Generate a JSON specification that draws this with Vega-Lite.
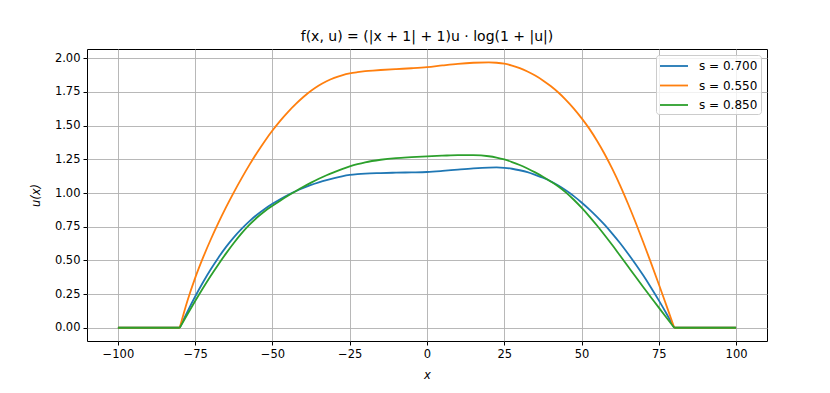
{
  "$schema": "https://vega.github.io/schema/vega-lite/v6.json",
  "autosize": "none",
  "width": 680,
  "height": 292,
  "padding": {"left": 87, "top": 49, "right": 63, "bottom": 52},
  "background": "white",
  "title": {"text": "f(x, u) = (|x + 1| + 1)u · log(1 + |u|)", "font": "DejaVu Sans", "fontSize": 14, "fontWeight": "normal", "color": "#000", "offset": 5},
  "config": {
    "view": {"stroke": "#000", "strokeWidth": 1},
    "axis": {"domain": false, "grid": true, "gridColor": "#b0b0b0", "gridWidth": 0.9, "tickColor": "#000", "tickSize": 4, "tickWidth": 1, "labelFont": "DejaVu Sans", "labelFontSize": 11.5, "labelColor": "#000", "labelPadding": 3, "titleFont": "DejaVu Sans", "titleFontSize": 11.5, "titleFontWeight": "normal", "titleFontStyle": "italic", "titleColor": "#000"},
    "legend": {"labelFont": "DejaVu Sans", "labelFontSize": 12, "labelColor": "#000"}
  },
  "datasets": {
    "pts": [
      {"s":"s = 0.700","p":1,"x":-100,"y":0},{"s":"s = 0.700","p":1,"x":-80,"y":0},
      {"s":"s = 0.700","p":2,"x":-80,"y":0},{"s":"s = 0.700","p":2,"x":-77.5,"y":0.12},{"s":"s = 0.700","p":2,"x":-75,"y":0.232},{"s":"s = 0.700","p":2,"x":-72.5,"y":0.336},{"s":"s = 0.700","p":2,"x":-70,"y":0.432},{"s":"s = 0.700","p":2,"x":-67.5,"y":0.52},{"s":"s = 0.700","p":2,"x":-65,"y":0.6},{"s":"s = 0.700","p":2,"x":-62.5,"y":0.671},{"s":"s = 0.700","p":2,"x":-60,"y":0.734},{"s":"s = 0.700","p":2,"x":-57.5,"y":0.79},{"s":"s = 0.700","p":2,"x":-55,"y":0.839},{"s":"s = 0.700","p":2,"x":-52.5,"y":0.882},{"s":"s = 0.700","p":2,"x":-50,"y":0.92},{"s":"s = 0.700","p":2,"x":-47.5,"y":0.954},{"s":"s = 0.700","p":2,"x":-45,"y":0.985},{"s":"s = 0.700","p":2,"x":-42.5,"y":1.013},{"s":"s = 0.700","p":2,"x":-40,"y":1.038},{"s":"s = 0.700","p":2,"x":-37.5,"y":1.06},{"s":"s = 0.700","p":2,"x":-35,"y":1.079},{"s":"s = 0.700","p":2,"x":-32.5,"y":1.096},{"s":"s = 0.700","p":2,"x":-30,"y":1.111},{"s":"s = 0.700","p":2,"x":-27.5,"y":1.124},{"s":"s = 0.700","p":2,"x":-25,"y":1.134},{"s":"s = 0.700","p":2,"x":-22.5,"y":1.14},{"s":"s = 0.700","p":2,"x":-20,"y":1.144},{"s":"s = 0.700","p":2,"x":-15,"y":1.148},{"s":"s = 0.700","p":2,"x":-10,"y":1.151},{"s":"s = 0.700","p":2,"x":-5,"y":1.153},{"s":"s = 0.700","p":2,"x":0,"y":1.156},{"s":"s = 0.700","p":2,"x":5,"y":1.164},{"s":"s = 0.700","p":2,"x":10,"y":1.174},{"s":"s = 0.700","p":2,"x":15,"y":1.183},{"s":"s = 0.700","p":2,"x":20,"y":1.189},{"s":"s = 0.700","p":2,"x":22.5,"y":1.19},{"s":"s = 0.700","p":2,"x":25,"y":1.187},{"s":"s = 0.700","p":2,"x":27.5,"y":1.18},{"s":"s = 0.700","p":2,"x":30,"y":1.169},{"s":"s = 0.700","p":2,"x":32.5,"y":1.155},{"s":"s = 0.700","p":2,"x":35,"y":1.135},{"s":"s = 0.700","p":2,"x":37.5,"y":1.113},{"s":"s = 0.700","p":2,"x":40,"y":1.087},{"s":"s = 0.700","p":2,"x":42.5,"y":1.055},{"s":"s = 0.700","p":2,"x":45,"y":1.018},{"s":"s = 0.700","p":2,"x":47.5,"y":0.977},{"s":"s = 0.700","p":2,"x":50,"y":0.93},{"s":"s = 0.700","p":2,"x":52.5,"y":0.879},{"s":"s = 0.700","p":2,"x":55,"y":0.823},{"s":"s = 0.700","p":2,"x":57.5,"y":0.763},{"s":"s = 0.700","p":2,"x":60,"y":0.697},{"s":"s = 0.700","p":2,"x":62.5,"y":0.627},{"s":"s = 0.700","p":2,"x":65,"y":0.551},{"s":"s = 0.700","p":2,"x":67.5,"y":0.471},{"s":"s = 0.700","p":2,"x":70,"y":0.387},{"s":"s = 0.700","p":2,"x":72.5,"y":0.297},{"s":"s = 0.700","p":2,"x":75,"y":0.203},{"s":"s = 0.700","p":2,"x":77.5,"y":0.104},{"s":"s = 0.700","p":2,"x":80,"y":0},
      {"s":"s = 0.700","p":3,"x":80,"y":0},{"s":"s = 0.700","p":3,"x":100,"y":0},
      {"s":"s = 0.550","p":1,"x":-100,"y":0},{"s":"s = 0.550","p":1,"x":-80,"y":0},
      {"s":"s = 0.550","p":2,"x":-80,"y":0},{"s":"s = 0.550","p":2,"x":-77.5,"y":0.2},{"s":"s = 0.550","p":2,"x":-75,"y":0.37},{"s":"s = 0.550","p":2,"x":-72.5,"y":0.518},{"s":"s = 0.550","p":2,"x":-70,"y":0.653},{"s":"s = 0.550","p":2,"x":-67.5,"y":0.778},{"s":"s = 0.550","p":2,"x":-65,"y":0.895},{"s":"s = 0.550","p":2,"x":-62.5,"y":1.005},{"s":"s = 0.550","p":2,"x":-60,"y":1.109},{"s":"s = 0.550","p":2,"x":-57.5,"y":1.207},{"s":"s = 0.550","p":2,"x":-55,"y":1.299},{"s":"s = 0.550","p":2,"x":-52.5,"y":1.385},{"s":"s = 0.550","p":2,"x":-50,"y":1.464},{"s":"s = 0.550","p":2,"x":-47.5,"y":1.536},{"s":"s = 0.550","p":2,"x":-45,"y":1.601},{"s":"s = 0.550","p":2,"x":-42.5,"y":1.66},{"s":"s = 0.550","p":2,"x":-40,"y":1.713},{"s":"s = 0.550","p":2,"x":-37.5,"y":1.759},{"s":"s = 0.550","p":2,"x":-35,"y":1.798},{"s":"s = 0.550","p":2,"x":-32.5,"y":1.83},{"s":"s = 0.550","p":2,"x":-30,"y":1.855},{"s":"s = 0.550","p":2,"x":-27.5,"y":1.874},{"s":"s = 0.550","p":2,"x":-25,"y":1.888},{"s":"s = 0.550","p":2,"x":-22.5,"y":1.897},{"s":"s = 0.550","p":2,"x":-20,"y":1.904},{"s":"s = 0.550","p":2,"x":-17.5,"y":1.909},{"s":"s = 0.550","p":2,"x":-15,"y":1.913},{"s":"s = 0.550","p":2,"x":-10,"y":1.92},{"s":"s = 0.550","p":2,"x":-5,"y":1.926},{"s":"s = 0.550","p":2,"x":0,"y":1.934},{"s":"s = 0.550","p":2,"x":5,"y":1.947},{"s":"s = 0.550","p":2,"x":10,"y":1.959},{"s":"s = 0.550","p":2,"x":15,"y":1.967},{"s":"s = 0.550","p":2,"x":20,"y":1.97},{"s":"s = 0.550","p":2,"x":22.5,"y":1.967},{"s":"s = 0.550","p":2,"x":25,"y":1.96},{"s":"s = 0.550","p":2,"x":27.5,"y":1.946},{"s":"s = 0.550","p":2,"x":30,"y":1.927},{"s":"s = 0.550","p":2,"x":32.5,"y":1.902},{"s":"s = 0.550","p":2,"x":35,"y":1.872},{"s":"s = 0.550","p":2,"x":37.5,"y":1.836},{"s":"s = 0.550","p":2,"x":40,"y":1.794},{"s":"s = 0.550","p":2,"x":42.5,"y":1.746},{"s":"s = 0.550","p":2,"x":45,"y":1.69},{"s":"s = 0.550","p":2,"x":47.5,"y":1.627},{"s":"s = 0.550","p":2,"x":50,"y":1.556},{"s":"s = 0.550","p":2,"x":52.5,"y":1.478},{"s":"s = 0.550","p":2,"x":55,"y":1.388},{"s":"s = 0.550","p":2,"x":57.5,"y":1.288},{"s":"s = 0.550","p":2,"x":60,"y":1.177},{"s":"s = 0.550","p":2,"x":62.5,"y":1.055},{"s":"s = 0.550","p":2,"x":65,"y":0.922},{"s":"s = 0.550","p":2,"x":67.5,"y":0.781},{"s":"s = 0.550","p":2,"x":70,"y":0.633},{"s":"s = 0.550","p":2,"x":72.5,"y":0.48},{"s":"s = 0.550","p":2,"x":75,"y":0.323},{"s":"s = 0.550","p":2,"x":77.5,"y":0.162},{"s":"s = 0.550","p":2,"x":80,"y":0},
      {"s":"s = 0.550","p":3,"x":80,"y":0},{"s":"s = 0.550","p":3,"x":100,"y":0},
      {"s":"s = 0.850","p":1,"x":-100,"y":0},{"s":"s = 0.850","p":1,"x":-80,"y":0},
      {"s":"s = 0.850","p":2,"x":-80,"y":0},{"s":"s = 0.850","p":2,"x":-77.5,"y":0.1},{"s":"s = 0.850","p":2,"x":-75,"y":0.198},{"s":"s = 0.850","p":2,"x":-72.5,"y":0.293},{"s":"s = 0.850","p":2,"x":-70,"y":0.384},{"s":"s = 0.850","p":2,"x":-67.5,"y":0.47},{"s":"s = 0.850","p":2,"x":-65,"y":0.552},{"s":"s = 0.850","p":2,"x":-62.5,"y":0.629},{"s":"s = 0.850","p":2,"x":-60,"y":0.7},{"s":"s = 0.850","p":2,"x":-57.5,"y":0.763},{"s":"s = 0.850","p":2,"x":-55,"y":0.818},{"s":"s = 0.850","p":2,"x":-52.5,"y":0.865},{"s":"s = 0.850","p":2,"x":-50,"y":0.905},{"s":"s = 0.850","p":2,"x":-47.5,"y":0.943},{"s":"s = 0.850","p":2,"x":-45,"y":0.979},{"s":"s = 0.850","p":2,"x":-42.5,"y":1.013},{"s":"s = 0.850","p":2,"x":-40,"y":1.046},{"s":"s = 0.850","p":2,"x":-37.5,"y":1.077},{"s":"s = 0.850","p":2,"x":-35,"y":1.106},{"s":"s = 0.850","p":2,"x":-32.5,"y":1.132},{"s":"s = 0.850","p":2,"x":-30,"y":1.155},{"s":"s = 0.850","p":2,"x":-27.5,"y":1.177},{"s":"s = 0.850","p":2,"x":-25,"y":1.197},{"s":"s = 0.850","p":2,"x":-22.5,"y":1.214},{"s":"s = 0.850","p":2,"x":-20,"y":1.228},{"s":"s = 0.850","p":2,"x":-15,"y":1.247},{"s":"s = 0.850","p":2,"x":-10,"y":1.259},{"s":"s = 0.850","p":2,"x":-5,"y":1.266},{"s":"s = 0.850","p":2,"x":0,"y":1.272},{"s":"s = 0.850","p":2,"x":5,"y":1.277},{"s":"s = 0.850","p":2,"x":10,"y":1.281},{"s":"s = 0.850","p":2,"x":15,"y":1.281},{"s":"s = 0.850","p":2,"x":20,"y":1.273},{"s":"s = 0.850","p":2,"x":22.5,"y":1.263},{"s":"s = 0.850","p":2,"x":25,"y":1.249},{"s":"s = 0.850","p":2,"x":27.5,"y":1.23},{"s":"s = 0.850","p":2,"x":30,"y":1.208},{"s":"s = 0.850","p":2,"x":32.5,"y":1.182},{"s":"s = 0.850","p":2,"x":35,"y":1.153},{"s":"s = 0.850","p":2,"x":37.5,"y":1.121},{"s":"s = 0.850","p":2,"x":40,"y":1.086},{"s":"s = 0.850","p":2,"x":42.5,"y":1.048},{"s":"s = 0.850","p":2,"x":45,"y":1.003},{"s":"s = 0.850","p":2,"x":47.5,"y":0.95},{"s":"s = 0.850","p":2,"x":50,"y":0.891},{"s":"s = 0.850","p":2,"x":52.5,"y":0.827},{"s":"s = 0.850","p":2,"x":55,"y":0.759},{"s":"s = 0.850","p":2,"x":57.5,"y":0.687},{"s":"s = 0.850","p":2,"x":60,"y":0.612},{"s":"s = 0.850","p":2,"x":62.5,"y":0.534},{"s":"s = 0.850","p":2,"x":65,"y":0.456},{"s":"s = 0.850","p":2,"x":67.5,"y":0.378},{"s":"s = 0.850","p":2,"x":70,"y":0.301},{"s":"s = 0.850","p":2,"x":72.5,"y":0.225},{"s":"s = 0.850","p":2,"x":75,"y":0.149},{"s":"s = 0.850","p":2,"x":77.5,"y":0.074},{"s":"s = 0.850","p":2,"x":80,"y":0},
      {"s":"s = 0.850","p":3,"x":80,"y":0},{"s":"s = 0.850","p":3,"x":100,"y":0}
    ]
  },
  "data": {"name": "pts"},
  "mark": {"type": "line", "interpolate": "monotone", "strokeWidth": 1.8},
  "encoding": {
    "x": {"field": "x", "type": "quantitative", "scale": {"domain": [-110, 110], "nice": false, "zero": false}, "axis": {"values": [-100, -75, -50, -25, 0, 25, 50, 75, 100], "title": "x", "titlePadding": 10}},
    "y": {"field": "y", "type": "quantitative", "scale": {"domain": [-0.0985, 2.069], "nice": false, "zero": false}, "axis": {"values": [0, 0.25, 0.5, 0.75, 1, 1.25, 1.5, 1.75, 2], "format": ".2f", "title": "u(x)", "titlePadding": 13}},
    "color": {"field": "s", "type": "nominal", "scale": {"domain": ["s = 0.700", "s = 0.550", "s = 0.850"], "range": ["#1f77b4", "#ff7f0e", "#2ca02c"]},
      "legend": {"title": null, "orient": "top-right", "offset": 6, "symbolType": "M-1,0H3", "symbolSize": 196, "symbolStrokeWidth": 1.8, "symbolFillColor": "transparent", "rowPadding": 5.5, "labelOffset": 24, "padding": 3, "fillColor": "rgba(255,255,255,0.8)", "strokeColor": "#cccccc", "cornerRadius": 3}},
    "detail": {"field": "p", "type": "nominal"}
  }
}
